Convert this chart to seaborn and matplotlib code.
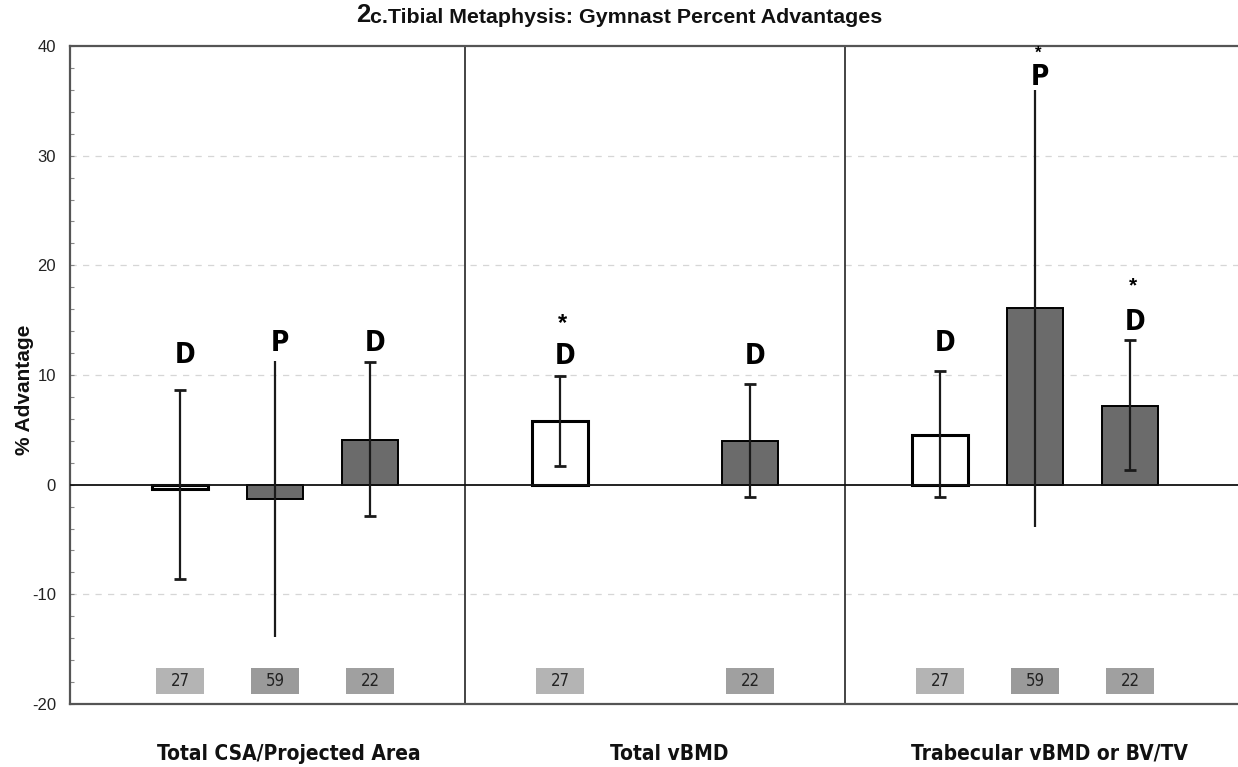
import numpy as np
import pandas as pd
import matplotlib
matplotlib.use("Agg")
import matplotlib.pyplot as plt
import seaborn as sns

# ---------------- data ----------------
measures = ["Total CSA/Projected Area", "Total vBMD", "Trabecular vBMD or BV/TV"]
groups = ["G27", "G59", "G22"]
group_n = [27, 59, 22]
# mean % advantage per measure (rows) and group (cols); NaN = not shown
values = [[-0.35, -1.3, 4.1],
          [5.8, np.nan, 4.0],
          [4.5, 16.1, 7.2]]
err_upper = [[8.6, 11.3, 11.2],
             [9.9, np.nan, 9.2],
             [10.4, 36.0, 13.2]]
err_lower = [[-8.6, -13.9, -2.9],
             [1.7, np.nan, -1.1],
             [-1.1, -3.9, 1.3]]
letters = [["D", "P", "D"],
           ["D", "", "D"],
           ["D", "P", "D"]]
letter_y = [[11.8, 12.9, 12.9],
            [11.7, np.nan, 11.7],
            [12.9, 37.2, 14.8]]
stars = [["", "", ""],
         ["*", "", ""],
         ["", "*", "*"]]
star_y = [[np.nan, np.nan, np.nan],
          [14.7, np.nan, np.nan],
          [np.nan, 39.3, 18.1]]
yticks = [-20, -10, 0, 10, 20, 30, 40]

# ---------------- long table ----------------
rows = []
for mi, m in enumerate(measures):
    for gi, g in enumerate(groups):
        v = values[mi][gi]
        if np.isnan(v):
            continue
        rows.append(dict(measure=m, group=g, pos=mi * 4 + gi, value=v,
                         lo=err_lower[mi][gi], hi=err_upper[mi][gi],
                         letter=letters[mi][gi], ly=letter_y[mi][gi],
                         star=stars[mi][gi], sy=star_y[mi][gi], n=group_n[gi], gi=gi))
df = pd.DataFrame(rows)

sns.set_theme(style="white")
plt.rcParams["font.family"] = ["Liberation Sans", "DejaVu Sans"]

W, H = 1238, 767
fig = plt.figure(figsize=(W / 100, H / 100), dpi=100)
ax = fig.add_axes([70 / W, 1 - 704 / H, (W - 70) / W, (704 - 46) / H])

bar_colors = {"G27": "white", "G59": "#6b6b6b", "G22": "#6b6b6b"}
sns.barplot(data=df, x="pos", y="value", hue="group", hue_order=groups,
            palette=bar_colors, native_scale=True, dodge=False, width=0.59,
            errorbar=None, legend=False, ax=ax, zorder=3)
for ci, cont in enumerate(ax.containers):
    for p in cont.patches:
        p.set_edgecolor("black")
        p.set_linewidth(2.2 if ci == 0 else 1.4)

# error bars
for capped, sub in [(True, df[df.letter == "D"]), (False, df[df.letter != "D"])]:
    ax.errorbar(sub.pos, sub.value, yerr=[sub.value - sub.lo, sub.hi - sub.value],
                fmt="none", ecolor="#1a1a1a", elinewidth=1.6,
                capsize=4.2 if capped else 0, capthick=2.0, zorder=4)

# letters and stars
for _, r in df.iterrows():
    if r.letter:
        ax.text(r.pos + 0.05, r.ly, r.letter, ha="center", va="center",
                fontsize=20, fontweight="bold", fontstretch="condensed",
                family=["DejaVu Sans"], color="black", zorder=5)
    if r.star:
        fs = 12 if r.sy > 30 else (17 if r.sy < 16 else 15)
        ax.text(r.pos + 0.03, r.sy, r.star, ha="center", va="center",
                fontsize=fs, fontweight="bold", color="black", zorder=5)

# sample-size boxes
box_colors = {"G27": "#b4b4b4", "G59": "#9a9a9a", "G22": "#a0a0a0"}
ax.bar(df.pos, 2.4, bottom=-19.1, width=0.5,
       color=[box_colors[g] for g in df.group], edgecolor="none", zorder=2)
for _, r in df.iterrows():
    ax.text(r.pos, -17.9, str(r.n), ha="center", va="center", fontsize=12,
            fontstretch="condensed", family=["DejaVu Sans"], color="#222222", zorder=5)

# axes styling
ax.set_xlim(-1.158, 11.137)
ax.set_ylim(-20, 40)
ax.set_yticks(yticks)
ax.set_yticks(np.arange(-20, 41, 2), minor=True)
ax.set_yticklabels([str(t) for t in yticks], fontsize=12, color="#222222")
ax.tick_params(axis="y", which="both", direction="in", length=3, width=0.8,
               color="#888888", pad=10, left=True)
ax.set_xticks([])
ax.set_xlabel("")
ax.set_ylabel("")
for t in yticks:
    if t not in (-20, 0, 40):
        ax.axhline(t, color="#d6d6d6", lw=0.9, ls=(0, (5, 5)), zorder=0)
ax.axhline(0, color="#111111", lw=1.3, zorder=3.5)
for d in (3, 7):
    ax.axvline(d, color="#111111", lw=1.1, zorder=1)
for s in ("left", "top", "bottom"):
    ax.spines[s].set_color("#555555")
    ax.spines[s].set_linewidth(1.6)
ax.spines["right"].set_visible(False)

# category labels
for mi, m in enumerate(measures):
    ax.text(mi * 4 + 1.15, -20 - 50 / 10.97, m, ha="center", va="center",
            fontsize=15, fontweight="bold", fontstretch="condensed",
            family=["DejaVu Sans"], color="#111111")

# y label
fig.text(24 / W, 1 - 390 / H, "% Advantage", rotation=90, ha="center", va="center",
         fontsize=15, fontweight="bold", color="#111111")

# title
t2 = fig.text(356 / W, 1 - 22 / H, "2", fontsize=18.5, fontweight="bold", ha="left",
              va="baseline", color="#111111")
ax.annotate("c.Tibial Metaphysis: Gymnast Percent Advantages", xy=(1, 0), xycoords=t2,
            fontsize=15.4, fontweight="bold", ha="left", va="bottom", color="#111111",
            annotation_clip=False)

fig.savefig("out.png", dpi=100)
